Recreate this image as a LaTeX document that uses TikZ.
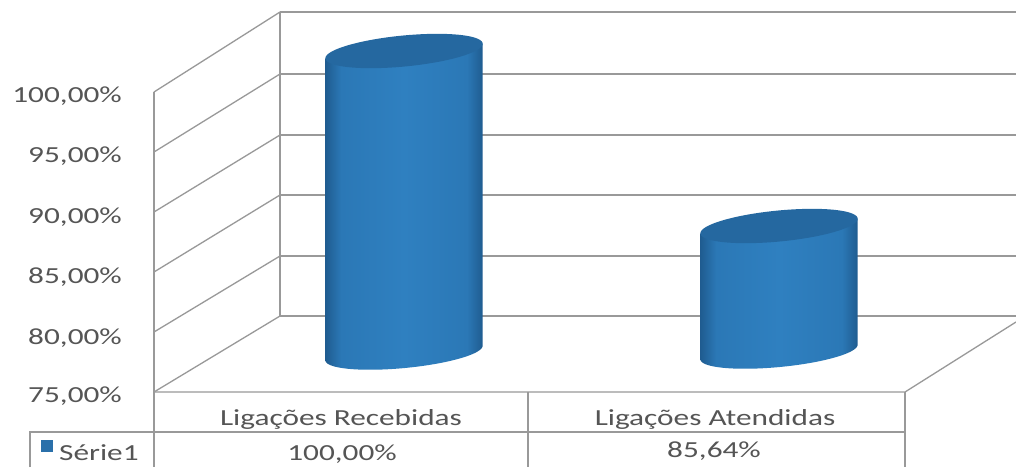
\documentclass[tikz,border=0pt]{standalone}
\usepackage{fontspec}
\setmainfont{Carlito}
\usepackage{graphicx}
\definecolor{gridc}{HTML}{999999}
\definecolor{txt}{HTML}{555555}
\definecolor{cyltop}{HTML}{2568A0}
\definecolor{cylmid}{HTML}{2B78B6}
\definecolor{cyllight}{HTML}{2F80C0}
\definecolor{cyledge}{HTML}{1F5C90}
\definecolor{legc}{HTML}{2A70AA}
\pgfdeclarehorizontalshading{cylshade}{100bp}{color(0bp)=(cyledge); color(25bp)=(cyledge); color(30bp)=(cylmid); color(50bp)=(cyllight); color(70bp)=(cylmid); color(75bp)=(cyledge); color(100bp)=(cyledge)}
\newcommand{\sx}[1]{\scalebox{1.36}[1]{#1}}
\newcommand{\drawcyl}[3]{%
  \shade[shading=cylshade]
    ({#1-78.6},{#2+7.5}) -- ({#1-78.6},{#3+7.5})
    -- plot[domain=180:360, samples=60]
      ({#1+79*cos(\x)*cos(5.5)-15*sin(\x)*sin(5.5)},{#3-(79*cos(\x)*sin(5.5)+15*sin(\x)*cos(5.5))})
    -- ({#1+78.6},{#2-7.5}) -- cycle;
  \fill[cyltop] plot[domain=0:360, samples=90]
      ({#1+79*cos(\x)*cos(5.5)-15.5*sin(\x)*sin(5.5)},{#2-(79*cos(\x)*sin(5.5)+15.5*sin(\x)*cos(5.5))}) -- cycle;
}
\tikzset{
  gridline/.style={draw=gridc, line width=1.3pt},
  lbl/.style={text=txt, font=\fontsize{23}{25}\selectfont, inner sep=0pt}
}
\begin{document}
\begin{tikzpicture}[x=1pt,y=-1pt]
\useasboundingbox (0,0) rectangle (1016,467);
\fill[white] (0,0) rectangle (1016,467);
% back wall
\draw[gridline] (280,316) -- (280,12);
\foreach \yb in {12,74,135,195,256,316} \draw[gridline] (280,\yb) -- (1016,\yb);
% left wall
\draw[gridline] (154,92) -- (154,467);
\foreach \yf/\yb in {92/12,152/74,212/135,272/195,332/256,392/316} \draw[gridline] (154,\yf) -- (280,\yb);
% floor front + right diagonal
\draw[gridline] (154,392) -- (905,392) -- (1016,322);
% table
\draw[gridline] (30,467) -- (30,432) -- (905,432);
\draw[gridline] (528,392) -- (528,467);
\draw[gridline] (905,392) -- (905,467);
% cylinders
\drawcyl{404}{51}{353}
\drawcyl{779}{226}{352}
% axis labels
\node[lbl, anchor=base east] (y100) at (122,102) {\sx{100,00\%}};
\node[lbl, anchor=base east] (y95) at (122,162.5) {\sx{95,00\%}};
\node[lbl, anchor=base east] (y90) at (122,223) {\sx{90,00\%}};
\node[lbl, anchor=base east] (y85) at (122,283.5) {\sx{85,00\%}};
\node[lbl, anchor=base east] (y80) at (122,344) {\sx{80,00\%}};
\node[lbl, anchor=base east] (y75) at (122,402) {\sx{75,00\%}};
% table text
\node[lbl, anchor=base] (c1) at (341,425) {\sx{Ligações Recebidas}};
\node[lbl, anchor=base] (c2) at (715,425) {\sx{Ligações Atendidas}};
\node[lbl, anchor=base] (v1) at (342,460) {\sx{100,00\%}};
\node[lbl, anchor=base] (v2) at (714,457) {\sx{85,64\%}};
\fill[legc] (41,440) rectangle (53,452);
\node[lbl, anchor=base west] (ser) at (59,460) {\sx{Série1}};
\end{tikzpicture}
\end{document}
